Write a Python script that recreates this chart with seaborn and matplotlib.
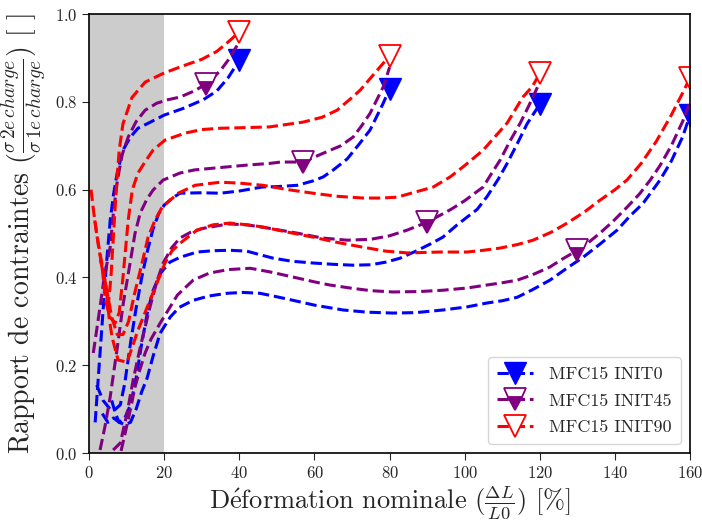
import numpy as np
import matplotlib
matplotlib.use("Agg")
import matplotlib.pyplot as plt
import seaborn as sns
from matplotlib.lines import Line2D

# INIT0 (blue) - one curve per loading level
b40_x = [1.6, 2.5, 3.5, 4.5, 5.6, 6.5, 7.5, 9, 11, 13, 15.4, 20, 25, 30.4, 34, 37, 40]
b40_y = [0.07, 0.18, 0.3, 0.42, 0.53, 0.59, 0.64, 0.69, 0.72, 0.74, 0.75, 0.77, 0.785, 0.805, 0.825, 0.855, 0.895]
b80_x = [2, 3.7, 5.6, 7, 8.3, 9.5, 11, 12.5, 14, 15.5, 17, 18.5, 20, 22, 24.2, 30, 34.9, 40, 46, 50, 55.4,
         59.6, 62.3, 65, 68.7, 72, 74.8, 78.3, 80]
b80_y = [0.155, 0.12, 0.1, 0.1, 0.11, 0.16, 0.25, 0.33, 0.4, 0.46, 0.51, 0.545, 0.565, 0.58, 0.592, 0.593,
         0.592, 0.597, 0.606, 0.607, 0.61, 0.62, 0.629, 0.645, 0.67, 0.705, 0.736, 0.797, 0.83]
b120_x = [3.5, 5, 6.5, 8, 9.5, 11, 12.5, 14, 15.5, 17, 19, 21.5, 24.2, 28.7, 33, 37.5, 42, 45, 49, 54, 59.6,
          65, 70.3, 75, 79, 82.8, 87, 91, 94.2, 98, 101, 103.3, 106, 109, 111.3, 114, 116.6, 120]
b120_y = [0.09, 0.07, 0.08, 0.07, 0.08, 0.11, 0.17, 0.25, 0.32, 0.37, 0.41, 0.435, 0.446, 0.458, 0.461, 0.462,
          0.46, 0.453, 0.444, 0.437, 0.433, 0.43, 0.428, 0.429, 0.435, 0.444, 0.46, 0.477, 0.492, 0.52, 0.54,
          0.555, 0.585, 0.625, 0.66, 0.705, 0.75, 0.795]
b160_x = [6, 7, 8, 9.5, 11, 12.5, 14, 15.4, 17, 18.9, 21.6, 24, 27.7, 32, 36.7, 41, 45.5, 50, 54.3, 60, 67.6,
          74, 80.9, 87, 94.2, 100.6, 106, 110, 114, 118, 122.7, 127, 131.5, 136, 140.6, 144, 147.5, 152, 155,
          158, 160]
b160_y = [0.12, 0.09, 0.07, 0.065, 0.07, 0.1, 0.14, 0.17, 0.22, 0.273, 0.31, 0.332, 0.348, 0.358, 0.364, 0.366,
          0.364, 0.356, 0.348, 0.337, 0.326, 0.321, 0.319, 0.32, 0.326, 0.333, 0.342, 0.347, 0.355, 0.372, 0.394,
          0.42, 0.446, 0.476, 0.508, 0.54, 0.569, 0.622, 0.665, 0.72, 0.77]

# INIT45 (purple)
p40_x = [1.1, 2, 2.9, 4, 5.6, 6.5, 7.5, 8.8, 10.4, 12.5, 14.9, 18, 21, 24.2, 28, 31, 33, 35, 37, 39.5]
p40_y = [0.228, 0.28, 0.333, 0.4, 0.469, 0.55, 0.62, 0.68, 0.72, 0.755, 0.781, 0.797, 0.805, 0.811, 0.825, 0.84,
         0.855, 0.872, 0.895, 0.93]
p80_x = [2.9, 4.2, 5.6, 7.5, 9.1, 10.9, 12.2, 13.6, 15.3, 17, 19.7, 24.2, 28, 33, 42, 48.2, 51, 57, 61.5, 64.2,
         67, 70.3, 72.5, 74.8, 78.3, 80]
p80_y = [0.007, 0.06, 0.128, 0.241, 0.342, 0.433, 0.5, 0.547, 0.577, 0.599, 0.622, 0.638, 0.645, 0.649, 0.656,
         0.66, 0.663, 0.663, 0.68, 0.69, 0.7, 0.72, 0.745, 0.774, 0.834, 0.879]
p120_x = [6.4, 8.3, 10.1, 11.7, 13.6, 16.2, 18, 19.7, 22, 24.2, 27, 30.4, 37, 42, 48, 55.4, 62, 68.7, 75, 80,
          84.7, 90, 93.5, 96.5, 100, 104.9, 107, 109.4, 112, 114.8, 117, 120]
p120_y = [0.007, 0.023, 0.091, 0.166, 0.241, 0.333, 0.39, 0.433, 0.468, 0.49, 0.503, 0.512, 0.522, 0.52, 0.512,
          0.501, 0.49, 0.485, 0.487, 0.495, 0.508, 0.526, 0.542, 0.556, 0.575, 0.606, 0.635, 0.667, 0.71, 0.752,
          0.79, 0.845]
p160_x = [8.5, 9.6, 11, 12.2, 13.5, 14.9, 16.5, 18.9, 21, 23.5, 27.7, 32, 37, 42.9, 48, 54.3, 60, 64, 69.5, 75,
          80.9, 88, 94.2, 100.6, 106, 110, 114, 118, 122.7, 126, 130, 133, 136, 139.5, 143.2, 146.5, 149.4, 152,
          155, 158, 160]
p160_y = [0.005, 0.046, 0.1, 0.15, 0.19, 0.228, 0.26, 0.296, 0.325, 0.36, 0.394, 0.41, 0.418, 0.421, 0.413,
          0.401, 0.39, 0.383, 0.376, 0.37, 0.367, 0.368, 0.371, 0.376, 0.383, 0.388, 0.394, 0.406, 0.424, 0.442,
          0.462, 0.48, 0.501, 0.528, 0.56, 0.59, 0.622, 0.655, 0.7, 0.755, 0.8]
p_marker_x = [31, 57, 90, 130]

# INIT90 (red)
r40_x = [5, 5.8, 6.5, 7.2, 8, 9, 11.4, 14.9, 20, 25, 30, 34, 37.5, 40]
r40_y = [0.33, 0.4, 0.5, 0.6, 0.69, 0.75, 0.81, 0.845, 0.866, 0.882, 0.897, 0.915, 0.94, 0.96]
r80_x = [1.5, 2.5, 3.5, 4.3, 5.5, 6.9, 8, 9, 10.4, 11.5, 13, 15, 17, 20.2, 25.6, 30, 35, 40, 48, 57, 62, 66, 70,
         72.2, 74.5, 76.7, 80]
r80_y = [0.53, 0.47, 0.42, 0.35, 0.31, 0.296, 0.32, 0.4, 0.531, 0.6, 0.638, 0.665, 0.69, 0.713, 0.729, 0.737,
         0.74, 0.741, 0.743, 0.754, 0.765, 0.781, 0.81, 0.827, 0.85, 0.872, 0.905]
r120_x = [0.5, 1.2, 2, 3, 4.5, 6, 7.5, 9, 10.5, 12, 14, 15.7, 17.5, 19.4, 23.7, 28.2, 34.9, 40, 46.3, 53, 59.6,
          66, 72.9, 78, 82, 87, 91.6, 96.1, 100, 104.9, 108, 111.3, 115.5, 118, 120]
r120_y = [0.6, 0.55, 0.5, 0.45, 0.38, 0.31, 0.27, 0.27, 0.3, 0.36, 0.43, 0.492, 0.53, 0.56, 0.592, 0.61, 0.617,
          0.615, 0.61, 0.6, 0.592, 0.585, 0.581, 0.581, 0.583, 0.595, 0.606, 0.629, 0.655, 0.69, 0.72, 0.752,
          0.811, 0.835, 0.865]
r160_x = [3, 4.5, 5.3, 6.1, 7.7, 10.1, 13, 17.6, 20.2, 22, 24.2, 28.7, 33, 37.5, 42, 46.3, 53, 59.6, 66, 72.9,
          79, 84.7, 93.5, 100.6, 105, 109.4, 114, 118.2, 123, 127.3, 132, 136, 140, 143.2, 147, 151, 155, 158, 160]
r160_y = [0.44, 0.38, 0.31, 0.264, 0.212, 0.207, 0.28, 0.378, 0.433, 0.46, 0.478, 0.508, 0.52, 0.524, 0.52,
          0.515, 0.503, 0.492, 0.48, 0.469, 0.46, 0.456, 0.458, 0.458, 0.462, 0.467, 0.475, 0.485, 0.503, 0.524,
          0.55, 0.576, 0.6, 0.622, 0.66, 0.71, 0.77, 0.82, 0.855]

labels = ["MFC15 INIT0", "MFC15 INIT45", "MFC15 INIT90"]
colors = ["#0000ff", "#800080", "#ff0000"]

sns.set_style("ticks")
plt.rcParams["font.family"] = ["cmr10", "DejaVu Serif"]
plt.rcParams["mathtext.fontset"] = "cm"
plt.rcParams["axes.formatter.use_mathtext"] = True

fig, ax = plt.subplots(figsize=(7.02, 5.22), dpi=100)
fig.subplots_adjust(left=0.127, right=0.983, top=0.973, bottom=0.132)

ax.axvspan(0, 20, color="0.8", zorder=0, lw=0)

line_kw = dict(linestyle="--", linewidth=2.2, markersize=16, estimator=None, sort=False, legend=False)

blue = [(b40_x, b40_y), (b80_x, b80_y), (b120_x, b120_y), (b160_x, b160_y)]
purple = [(p40_x, p40_y), (p80_x, p80_y), (p120_x, p120_y), (p160_x, p160_y)]
red = [(r40_x, r40_y), (r80_x, r80_y), (r120_x, r120_y), (r160_x, r160_y)]

for x, y in blue:
    sns.lineplot(x=x, y=y, ax=ax, color=colors[0], marker="v", markevery=[len(x) - 1],
                 markerfacecolor=colors[0], markeredgecolor=colors[0], markeredgewidth=1, **line_kw)

for (x, y), mx in zip(purple, p_marker_x):
    idx = int(np.argmin(np.abs(np.array(x) - mx)))
    sns.lineplot(x=x, y=y, ax=ax, color=colors[1], marker="v", markevery=[idx], fillstyle="bottom",
                 markerfacecolor=colors[1], markerfacecoloralt="white", markeredgecolor=colors[1],
                 markeredgewidth=1.3, **line_kw)

for x, y in red:
    sns.lineplot(x=x, y=y, ax=ax, color=colors[2], marker="v", markevery=[len(x) - 1],
                 markerfacecolor="white", markeredgecolor=colors[2], markeredgewidth=1.3, **line_kw)

ax.set_xlim(0, 160)
ax.set_ylim(0, 1.0)
ax.set_xticks(np.arange(0, 161, 20))
ax.set_yticks(np.arange(0, 1.01, 0.2))
ax.tick_params(labelsize=12, direction="out", length=5)
for s in ax.spines.values():
    s.set_linewidth(1.2)
    s.set_color("black")

ax.set_xlabel(r"D$\mathrm{\acute{e}}$formation nominale $(\frac{\Delta L}{L0})$ [%]", fontsize=19, labelpad=2)
ax.set_ylabel(r"Rapport de contraintes $(\frac{\sigma\,2e\,charge}{\sigma\,1e\,charge})$ [ ]", fontsize=20,
              labelpad=4)

handles = [
    Line2D([], [], color=colors[0], ls="--", lw=2.2, marker="v", ms=16, mfc=colors[0], mec=colors[0]),
    Line2D([], [], color=colors[1], ls="--", lw=2.2, marker="v", ms=16, fillstyle="bottom",
           mfc=colors[1], mfcalt="white", mec=colors[1], mew=1.3),
    Line2D([], [], color=colors[2], ls="--", lw=2.2, marker="v", ms=16, mfc="white", mec=colors[2], mew=1.3),
]
ax.legend(handles, labels, loc="lower right", fontsize=13, handlelength=2.0, borderpad=0.5,
          labelspacing=0.6, handletextpad=0.9, frameon=True)

fig.savefig("out.png", dpi=100)
